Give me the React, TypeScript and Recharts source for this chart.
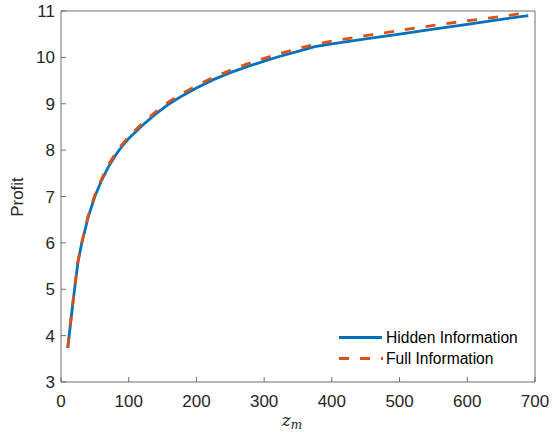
import React from 'react'
import { LineChart, Line, XAxis, YAxis } from 'recharts'

// capacity z_m and profit for the two information settings
const zValues = [10, 15, 20, 25, 30, 40, 50, 60, 70, 80, 90, 100, 120, 140, 160, 180, 200, 225, 250, 275, 300, 325, 350, 375, 400, 450, 500, 550, 600, 650, 690]
const hiddenProfit = [3.73, 4.38, 5.0, 5.58, 5.95, 6.55, 7.0, 7.35, 7.64, 7.88, 8.08, 8.25, 8.53, 8.78, 9.0, 9.18, 9.34, 9.52, 9.67, 9.8, 9.92, 10.03, 10.13, 10.23, 10.29, 10.4, 10.5, 10.61, 10.71, 10.82, 10.9]
const fullProfit = [3.75, 4.4, 5.02, 5.6, 5.97, 6.58, 7.03, 7.38, 7.68, 7.92, 8.12, 8.29, 8.58, 8.83, 9.05, 9.23, 9.39, 9.57, 9.72, 9.86, 9.98, 10.09, 10.19, 10.28, 10.35, 10.47, 10.58, 10.69, 10.79, 10.88, 10.97]

const xTicks = [0, 100, 200, 300, 400, 500, 600, 700]
const yTicks = [3, 4, 5, 6, 7, 8, 9, 10, 11]
const seriesNames = ['Hidden Information', 'Full Information']

const BLUE = '#0072BD'
const ORANGE = '#D95319'
const AXIS = '#6e6e6e'
const TEXT = '#262626'
const FONT = '"Liberation Sans", Arial, Helvetica, sans-serif'

export default function App() {
    const data = zValues.map((z, i) => ({ z, hidden: hiddenProfit[i], full: fullProfit[i] }))
    const tickStyle = { fontSize: 17, fill: TEXT, fontFamily: FONT }

    return (
        <div style={{ position: 'absolute', left: 0, top: 0, width: 557, height: 436, background: '#fff' }}>
            <LineChart width={557} height={436} data={data} margin={{ top: 10, right: 21, bottom: 24, left: 21 }}>
                <XAxis
                    xAxisId="bottom"
                    type="number"
                    dataKey="z"
                    domain={[0, 700]}
                    ticks={xTicks}
                    height={30}
                    tickSize={-5}
                    tickMargin={18}
                    stroke={AXIS}
                    tick={tickStyle}
                />
                <XAxis xAxisId="top" orientation="top" type="number" domain={[0, 700]} ticks={xTicks} height={1} tickSize={-5} tick={false} stroke={AXIS} />
                <YAxis
                    yAxisId="left"
                    type="number"
                    domain={[3, 11]}
                    ticks={yTicks}
                    width={40}
                    tickSize={-5}
                    tickMargin={11}
                    stroke={AXIS}
                    tick={tickStyle}
                />
                <YAxis yAxisId="right" orientation="right" type="number" domain={[3, 11]} ticks={yTicks} width={1} tickSize={-5} tick={false} stroke={AXIS} />
                <Line
                    xAxisId="bottom"
                    yAxisId="left"
                    type="linear"
                    dataKey="hidden"
                    name={seriesNames[0]}
                    stroke={BLUE}
                    strokeWidth={2.8}
                    dot={false}
                    isAnimationActive={false}
                />
                <Line
                    xAxisId="bottom"
                    yAxisId="left"
                    type="linear"
                    dataKey="full"
                    name={seriesNames[1]}
                    stroke={ORANGE}
                    strokeWidth={2.8}
                    strokeDasharray="10 11"
                    dot={false}
                    isAnimationActive={false}
                />
            </LineChart>

            {/* axis titles */}
            <svg width={557} height={436} style={{ position: 'absolute', left: 0, top: 0, pointerEvents: 'none' }}>
                <text x={23} y={197} transform="rotate(-90 23 197)" textAnchor="middle" fontSize={17} fill={TEXT} fontFamily={FONT}>
                    Profit
                </text>
                <text x={292} y={426} textAnchor="middle" fontFamily='"DejaVu Serif", "Liberation Serif", serif' fill={TEXT}>
                    <tspan fontStyle="italic" fontSize={17}>z</tspan>
                    <tspan fontStyle="italic" fontSize={12} dy={3}>m</tspan>
                </text>
            </svg>

            {/* legend, no box */}
            <div style={{ position: 'absolute', left: 339, top: 327, fontFamily: FONT, fontSize: 15.6, color: '#000', lineHeight: '21px' }}>
                {seriesNames.map((name, i) => (
                    <div key={name} style={{ display: 'flex', alignItems: 'center' }}>
                        <svg width={44} height={21}>
                            <line
                                x1={0}
                                y1={10.5}
                                x2={i === 0 ? 43 : 44}
                                y2={10.5}
                                stroke={i === 0 ? BLUE : ORANGE}
                                strokeWidth={2.8}
                                strokeDasharray={i === 0 ? undefined : '10 11'}
                            />
                        </svg>
                        <span style={{ marginLeft: 3 }}>{name}</span>
                    </div>
                ))}
            </div>
        </div>
    )
}
